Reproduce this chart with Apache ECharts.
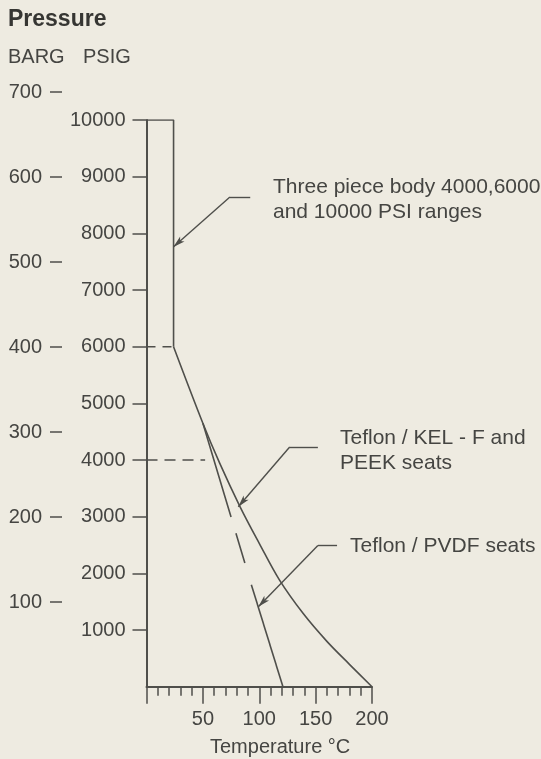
<!DOCTYPE html>
<html>
<head>
<meta charset="utf-8">
<script src="https://cdn.jsdelivr.net/npm/echarts@6/dist/echarts.min.js"></script>
<style>
html,body{margin:0;padding:0;background:#eeebe1}
#chart{width:541px;height:759px}
</style>
</head>
<body>
<div id="chart"></div>
<script>
// tick labels
const psigTicks = [1000, 2000, 3000, 4000, 5000, 6000, 7000, 8000, 9000, 10000];
const bargTicks = [100, 200, 300, 400, 500, 600, 700];
const tempTicks = [50, 100, 150, 200];

// outline of the three piece body (temp C, psig)
const bodyT = [0, 24, 24];
const bodyP = [10000, 10000, 6000];
// Teflon / KEL-F and PEEK seats
const kelfT = [24, 50, 65, 83, 100, 118, 139, 160, 180, 200];
const kelfP = [6000, 4650, 3940, 3175, 2530, 1880, 1290, 800, 395, 0];
// Teflon / PVDF seats (dashed part, then solid part)
const pvdfDashT = [50, 93];
const pvdfDashP = [4650, 1800];
const pvdfT = [93, 121];
const pvdfP = [1800, 0];
// dashed guide lines
const guide6000T = [0, 25];
const guide6000P = [6000, 6000];
const guide4000T = [0, 52];
const guide4000P = [4000, 4000];

// leader lines: [end of text line, elbow, arrow tip]
const leaderBody = [[92, 8640], [74, 8640], [23.8, 7760]];
const leaderKelf = [[152, 4230], [127, 4230], [81.4, 3175]];
const leaderPvdf = [[169, 2490], [152, 2490], [99.2, 1411]];

const ink = '#4f4f4b';
const txt = '#454542';
const font = '"Liberation Sans", Arial, Helvetica, sans-serif';

function zip(a, b) { return a.map((v, i) => [v, b[i]]); }
function plain(v) { return String(v); }

function leader(pts) {
  return [
    [{coord: pts[0], symbol: 'none'}, {coord: pts[1], symbol: 'none'}],
    [{coord: pts[1], symbol: 'none'}, {coord: pts[2], symbol: 'arrow', symbolSize: [5, 12]}]
  ];
}

const chart = echarts.init(document.getElementById('chart'), null, {renderer: 'canvas'});

const option = {
  backgroundColor: '#eeebe1',
  animation: false,
  textStyle: {fontFamily: font},
  grid: [
    {left: 146.5, top: 120, width: 225.5, height: 566.7, containLabel: false, outerBoundsMode: 'none'},
    {left: 62, top: 92, width: 10, height: 595, containLabel: false, outerBoundsMode: 'none'}
  ],
  xAxis: [
    {
      // small ticks every 10 degrees
      type: 'value', gridIndex: 0, min: 0, max: 200, interval: 10,
      axisLine: {show: true, onZero: false, lineStyle: {color: ink, width: 2}},
      axisTick: {show: true, length: 9, lineStyle: {color: ink, width: 1.5}},
      axisLabel: {customValues: tempTicks, formatter: plain, margin: 23, fontSize: 20, color: txt, fontFamily: font},
      splitLine: {show: false}
    },
    {type: 'value', gridIndex: 1, min: 0, max: 1, show: false},
    {
      // long ticks every 50 degrees
      type: 'value', gridIndex: 0, min: 0, max: 200, interval: 50, position: 'bottom',
      axisLine: {show: false},
      axisTick: {show: true, length: 17, lineStyle: {color: ink, width: 1.5}},
      axisLabel: {show: false},
      splitLine: {show: false}
    }
  ],
  yAxis: [
    {
      type: 'value', gridIndex: 0, min: 0, max: 10000, interval: 1000,
      axisLine: {show: true, onZero: false, lineStyle: {color: ink, width: 2}},
      axisTick: {show: true, length: 14, customValues: psigTicks, lineStyle: {color: ink, width: 1.5}},
      axisLabel: {customValues: psigTicks, formatter: plain, margin: 21, fontSize: 20, color: txt, fontFamily: font},
      splitLine: {show: false}
    },
    {
      type: 'value', gridIndex: 1, min: 0, max: 700, interval: 100,
      axisLine: {show: false},
      axisTick: {show: true, length: 12, customValues: bargTicks, lineStyle: {color: ink, width: 1.5}},
      axisLabel: {customValues: bargTicks, formatter: plain, margin: 20, fontSize: 20, color: txt, fontFamily: font},
      splitLine: {show: false}
    }
  ],
  series: [
    {
      name: 'body', type: 'line', data: zip(bodyT, bodyP), symbol: 'none',
      lineStyle: {color: ink, width: 1.6},
      markLine: {
        silent: true, animation: false,
        label: {show: false},
        lineStyle: {color: ink, width: 1.4, type: 'solid'},
        data: [].concat(leader(leaderBody), leader(leaderKelf), leader(leaderPvdf))
      }
    },
    {
      name: 'KEL-F', type: 'line', data: zip(kelfT, kelfP), symbol: 'none',
      smooth: 0.35,
      lineStyle: {color: ink, width: 1.6}
    },
    {
      name: 'PVDF dashed', type: 'line', data: zip(pvdfDashT, pvdfDashP), symbol: 'none',
      lineStyle: {color: ink, width: 1.6, type: [98, 17, 31, 40]}
    },
    {
      name: 'PVDF', type: 'line', data: zip(pvdfT, pvdfP), symbol: 'none',
      lineStyle: {color: ink, width: 1.6}
    },
    {
      name: 'g6000', type: 'line', data: zip(guide6000T, guide6000P), symbol: 'none',
      lineStyle: {color: ink, width: 1.5, type: [9, 7]}
    },
    {
      name: 'g4000', type: 'line', data: zip(guide4000T, guide4000P), symbol: 'none',
      lineStyle: {color: ink, width: 1.5, type: [11, 7]}
    }
  ],
  graphic: [
    {type: 'text', left: 8, top: 8, style: {text: 'Pressure', font: 'bold 23px ' + font, fill: '#363633'}},
    {type: 'text', left: 8, top: 47, style: {text: 'BARG', font: '20px ' + font, fill: txt}},
    {type: 'text', left: 83, top: 47, style: {text: 'PSIG', font: '20px ' + font, fill: txt}},
    {type: 'text', left: 210, top: 737, style: {text: 'Temperature °C', font: '20px ' + font, fill: txt}},
    {type: 'text', left: 273, top: 175, style: {text: 'Three piece body 4000,6000\nand 10000 PSI ranges', font: '21px ' + font, lineHeight: 25, fill: txt}},
    {type: 'text', left: 340, top: 426, style: {text: 'Teflon / KEL - F and\nPEEK seats', font: '21px ' + font, lineHeight: 25, fill: txt}},
    {type: 'text', left: 350, top: 536, style: {text: 'Teflon / PVDF seats', font: '21px ' + font, fill: txt}}
  ]
};

chart.setOption(option);
</script>
</body>
</html>
